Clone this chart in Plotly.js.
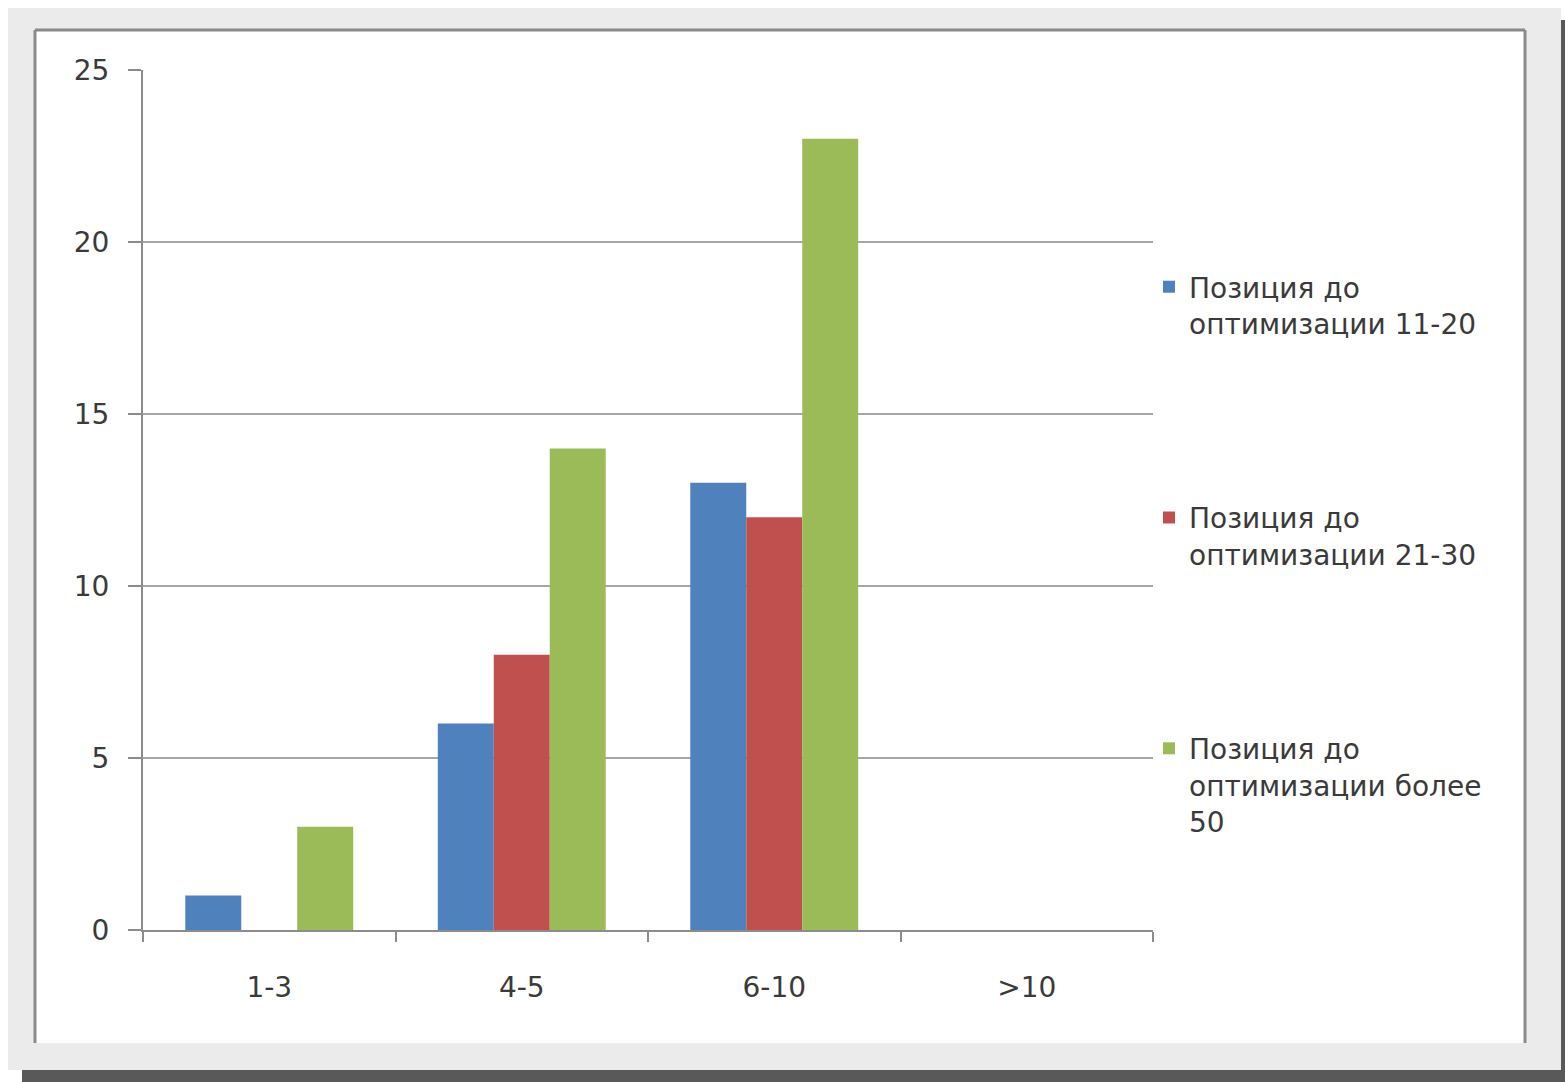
<!DOCTYPE html>
<html>
<head>
<meta charset="utf-8">
<script src="https://cdn.plot.ly/plotly-3.0.1.min.js"></script>
<style>
html,body{margin:0;padding:0;background:#fff;}
#chart{width:1565px;height:1082px;}
</style>
</head>
<body>
<div id="chart"></div>
<script>
// ---- data ----
const categories = ["1-3", "4-5", "6-10", ">10"];
const seriesNames = [
  "Позиция до<br>оптимизации 11-20",
  "Позиция до<br>оптимизации 21-30",
  "Позиция до<br>оптимизации более<br>50"
];
const series1120 = [1, 6, 13, 0];
const series2130 = [0, 8, 12, 0];
const seriesOver50 = [3, 14, 23, 0];
const yTickVals = [0, 5, 10, 15, 20, 25];

// ---- styles ----
const colors = ["#4f81bd", "#c0504d", "#9bbb59"];
const W = 1565, H = 1082;
const L = 143, R = 1153, T = 70, B = 930;
const px = x => (x - L) / (R - L);
const py = y => (B - y) / (B - T);

const font = {family: "DejaVu Sans, Verdana, sans-serif", size: 28, color: "#3a3a3a"};

const values = [series1120, series2130, seriesOver50];
const traces = values.map((v, i) => ({
  type: "bar",
  name: seriesNames[i],
  x: categories,
  y: v,
  marker: {color: colors[i], line: {width: 0}},
  legendgroup: "g" + i,
  hoverinfo: "x+y"
}));

const shapes = [
  {type: "rect", xref: "paper", yref: "paper", layer: "below",
   x0: px(8), x1: px(1561), y0: py(8), y1: py(1070),
   fillcolor: "#ebebeb", line: {width: 0}},
  {type: "rect", xref: "paper", yref: "paper", layer: "below",
   x0: px(22), x1: px(1565), y0: py(1070), y1: py(1082),
   fillcolor: "#595959", line: {width: 0}},
  {type: "rect", xref: "paper", yref: "paper", layer: "below",
   x0: px(1561), x1: px(1565), y0: py(20), y1: py(1082),
   fillcolor: "#595959", line: {width: 0}},
  {type: "rect", xref: "paper", yref: "paper", layer: "below",
   x0: px(35), x1: px(1525), y0: py(30), y1: py(1043),
   fillcolor: "#ffffff", line: {width: 0}},
  {type: "line", xref: "paper", yref: "paper", layer: "below",
   x0: px(35), x1: px(1525), y0: py(30), y1: py(30),
   line: {color: "#8a8a8a", width: 3}},
  {type: "line", xref: "paper", yref: "paper", layer: "below",
   x0: px(35), x1: px(35), y0: py(30), y1: py(1043),
   line: {color: "#8a8a8a", width: 3}},
  {type: "line", xref: "paper", yref: "paper", layer: "below",
   x0: px(1525), x1: px(1525), y0: py(30), y1: py(1043),
   line: {color: "#8a8a8a", width: 3}}
];

const layout = {
  width: W, height: H,
  margin: {l: L, r: W - R, t: T, b: H - B, pad: 0},
  paper_bgcolor: "#ffffff",
  plot_bgcolor: "rgba(0,0,0,0)",
  font: font,
  barmode: "group",
  bargap: 0.335,
  bargroupgap: 0,
  showlegend: true,
  legend: {
    x: px(1149), xanchor: "left",
    y: py(262), yanchor: "top",
    bgcolor: "rgba(0,0,0,0)",
    font: font,
    tracegroupgap: 155,
    traceorder: "grouped",
    valign: "top",
    itemclick: false, itemdoubleclick: false
  },
  xaxis: {
    type: "category",
    range: [-0.5, categories.length - 0.5],
    showgrid: false,
    showline: true, linecolor: "#8c8c8c", linewidth: 2,
    ticks: "outside", tickson: "boundaries", ticklen: 10, tickcolor: "#8c8c8c", tickwidth: 2,
    ticklabelstandoff: 31,
    tickfont: font,
    zeroline: false,
    fixedrange: true
  },
  yaxis: {
    range: [0, 25],
    tickvals: yTickVals,
    showgrid: true, gridcolor: "#a6a6a6", gridwidth: 2,
    showline: true, linecolor: "#8c8c8c", linewidth: 2,
    ticks: "outside", ticklen: 13, tickcolor: "#8c8c8c", tickwidth: 2,
    ticklabelstandoff: 13,
    tickfont: font,
    zeroline: false,
    fixedrange: true
  },
  shapes: shapes
};

Plotly.newPlot("chart", traces, layout, {displayModeBar: false});
</script>
</body>
</html>
